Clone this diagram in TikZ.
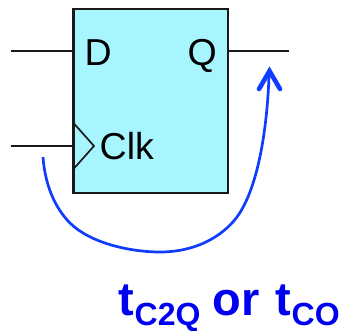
\documentclass[tikz,border=0pt]{standalone}
\usepackage{fontspec}
\setmainfont{Liberation Sans}
\definecolor{boxfill}{HTML}{A6F5FF}
\definecolor{curveblue}{HTML}{0F3CFF}
\definecolor{textblue}{HTML}{0000F0}
\tikzset{
  wire/.style={draw=black!90,line width=1.7pt},
  ffbox/.style={draw=black!90,line width=2.4pt,fill=boxfill,minimum width=154.5pt,minimum height=184pt,inner sep=0pt,outer sep=0pt,anchor=north west},
  pin/.style={font=\fontsize{37.5}{37.5}\selectfont,inner sep=0pt,anchor=base west,text=black},
  curve/.style={draw=curveblue,line width=2.7pt},
  tip/.style={draw=curveblue,line width=4.6pt,line cap=round,line join=miter},
  big/.style={font=\fontsize{47}{47}\selectfont\bfseries,inner sep=0pt,anchor=base west,text=textblue},
  small/.style={font=\fontsize{32}{32}\selectfont\bfseries,inner sep=0pt,anchor=base west,text=textblue}
}
\begin{document}
\begin{tikzpicture}[x=1pt,y=-1pt]
\useasboundingbox (0,0) rectangle (342,331);
\node[ffbox] (ff) at (73.5,9) {};
\coordinate (din) at (10.5,51);
\coordinate (dend) at (73.5,51);
\coordinate (qout) at (289,51);
\coordinate (qstart) at (228,51);
\coordinate (clkin) at (10.5,146);
\coordinate (clkend) at (73.5,146);
\draw[wire] (din) -- (dend);
\draw[wire] (qstart) -- (qout);
\draw[wire] (clkin) -- (clkend);
\coordinate (tria) at (73.5,123);
\coordinate (trib) at (94,146);
\coordinate (tric) at (73.5,169);
\draw[wire] (tria) -- (trib) -- (tric);
\node[pin] (d) at (84.5,66) {D};
\node[pin] (q) at (187.5,66) {Q};
\node[pin] (clk) at (99.5,160) {Clk};
\coordinate (cstart) at (43,157);
\coordinate (cend) at (269,76);
\draw[curve] (cstart) .. controls (45,185) and (55,208) .. (70,223)
  .. controls (90,243) and (130,252) .. (160,252)
  .. controls (195,252) and (222,237) .. (237,217)
  .. controls (258,188) and (267,130) .. (cend);
\coordinate (tipl) at (259,89);
\coordinate (tipa) at (269.5,71);
\coordinate (tipr) at (280,89);
\draw[tip] (tipl) -- (tipa) -- (tipr);
\node[big] (t1) at (118,315) {t};
\node[small] (s1) at (134.5,325.5) {C2Q};
\node[big] (or) at (212.5,315) {or};
\node[big] (t2) at (275,315) {t};
\node[small] (s2) at (291.5,325.5) {CO};
\end{tikzpicture}
\end{document}
